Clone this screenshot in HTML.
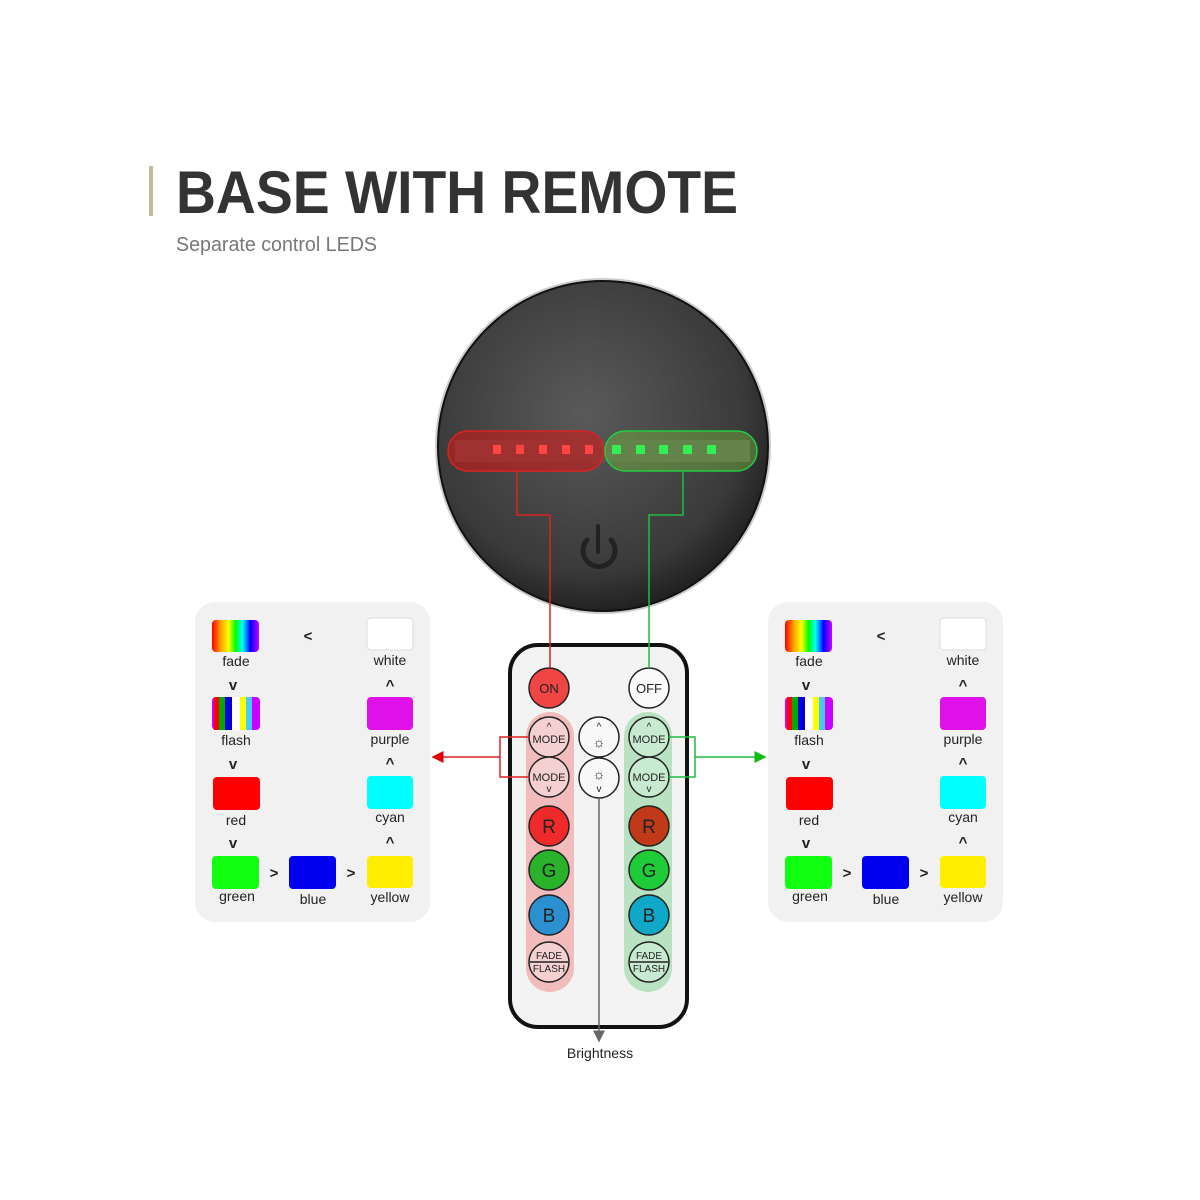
<!DOCTYPE html>
<html><head><meta charset="utf-8"><style>html,body{margin:0;padding:0;background:#fff}svg{display:block}</style></head><body>
<svg width="1200" height="1200" viewBox="0 0 1200 1200" xmlns="http://www.w3.org/2000/svg" font-family="Liberation Sans, sans-serif">
<defs>
<linearGradient id="fade" x1="0" x2="1"><stop offset="0" stop-color="#f00"/><stop offset=".2" stop-color="#fa0"/><stop offset=".35" stop-color="#ff0"/><stop offset=".5" stop-color="#0f0"/><stop offset=".65" stop-color="#0ff"/><stop offset=".82" stop-color="#00f"/><stop offset="1" stop-color="#c0f"/></linearGradient>
<radialGradient id="base" cx=".45" cy=".4" r=".6"><stop offset="0" stop-color="#5a5a5a"/><stop offset=".8" stop-color="#3a3a3a"/><stop offset="1" stop-color="#222"/></radialGradient>
<marker id="ar" markerWidth="8" markerHeight="8" refX="7" refY="4" orient="auto"><path d="M0,0 L8,4 L0,8z" fill="#d00"/></marker>
<marker id="ag" markerWidth="8" markerHeight="8" refX="7" refY="4" orient="auto"><path d="M0,0 L8,4 L0,8z" fill="#1b1"/></marker>
<marker id="ak" markerWidth="8" markerHeight="8" refX="7" refY="4" orient="auto"><path d="M0,0 L8,4 L0,8z" fill="#666"/></marker>
<g id="panel">
<rect x="195" y="602" width="235" height="320" rx="20" fill="#f1f1f1"/>
<rect x="212" y="620" width="47" height="32" rx="4" fill="url(#fade)"/>
<rect x="367" y="618" width="46" height="32" rx="4" fill="#fff" stroke="#ddd"/>
<g>
<rect x="212" y="697" width="48" height="33" rx="4" fill="#c0f"/>
<rect x="214" y="697" width="5" height="33" fill="#f00"/><rect x="219" y="697" width="6" height="33" fill="#0a0"/><rect x="225" y="697" width="7" height="33" fill="#00d"/><rect x="232" y="697" width="8" height="33" fill="#fff"/><rect x="240" y="697" width="6" height="33" fill="#ff0"/><rect x="246" y="697" width="6" height="33" fill="#4cf"/>
</g>
<rect x="367" y="697" width="46" height="33" rx="4" fill="#e010e8"/>
<rect x="213" y="777" width="47" height="33" rx="4" fill="#f00"/>
<rect x="367" y="776" width="46" height="33" rx="4" fill="#0ff"/>
<rect x="212" y="856" width="47" height="33" rx="4" fill="#1f1"/>
<rect x="289" y="856" width="47" height="33" rx="4" fill="#00e"/>
<rect x="367" y="856" width="46" height="32" rx="4" fill="#fe0"/>
<g font-size="14" fill="#222" text-anchor="middle">
<text x="236" y="666">fade</text><text x="390" y="665">white</text>
<text x="236" y="745">flash</text><text x="390" y="744">purple</text>
<text x="236" y="825">red</text><text x="390" y="822">cyan</text>
<text x="237" y="901">green</text><text x="313" y="904">blue</text><text x="390" y="902">yellow</text>
<g font-weight="bold" font-size="15"><text x="308" y="641">&lt;</text>
<text x="233" y="690">v</text><text x="233" y="769">v</text><text x="233" y="848">v</text>
<text x="390" y="690">^</text><text x="390" y="768">^</text><text x="390" y="847">^</text>
<text x="274" y="878">&gt;</text><text x="351" y="878">&gt;</text></g>
</g>
</g>
</defs>

<rect x="149" y="166" width="4" height="50" fill="#c9b89c"/>
<text x="176" y="213" font-size="60" font-weight="bold" fill="#333" textLength="562" lengthAdjust="spacingAndGlyphs">BASE WITH REMOTE</text>
<text x="176" y="251" font-size="20" fill="#777" textLength="201" lengthAdjust="spacingAndGlyphs">Separate control LEDS</text>

<use href="#panel"/>
<use href="#panel" transform="translate(573,0)"/>

<!-- base -->
<circle cx="603" cy="446" r="168" fill="#ccc"/>
<circle cx="603" cy="446" r="165" fill="url(#base)" stroke="#111" stroke-width="2"/>
<rect x="455" y="440" width="295" height="22" fill="#555"/>
<rect x="448" y="431" width="156" height="40" rx="20" fill="rgba(220,20,20,.55)" stroke="#d22" stroke-width="1.5"/>
<rect x="605" y="431" width="152" height="40" rx="20" fill="rgba(120,200,60,.4)" stroke="#2c4" stroke-width="1.5"/>
<g fill="#f44"><rect x="493" y="445" width="8" height="9"/><rect x="516" y="445" width="8" height="9"/><rect x="539" y="445" width="8" height="9"/><rect x="562" y="445" width="8" height="9"/><rect x="585" y="445" width="8" height="9"/></g>
<g fill="#3e5"><rect x="612" y="445" width="9" height="9"/><rect x="636" y="445" width="9" height="9"/><rect x="659" y="445" width="9" height="9"/><rect x="683" y="445" width="9" height="9"/><rect x="707" y="445" width="9" height="9"/></g>
<path d="M587,540 A16,16 0 1,0 611,540" fill="none" stroke="#222" stroke-width="5" stroke-linecap="round"/>
<line x1="598" y1="526" x2="598" y2="552" stroke="#222" stroke-width="4" stroke-linecap="round"/>

<!-- remote -->
<rect x="510" y="645" width="177" height="382" rx="28" fill="#f3f3f3" stroke="#111" stroke-width="4"/>
<rect x="526" y="712" width="48" height="280" rx="24" fill="#f2bcbc"/>
<rect x="624" y="712" width="48" height="280" rx="24" fill="#b8e2c2"/>
<g stroke="#222" stroke-width="1.5">
<circle cx="549" cy="688" r="20" fill="#f04545"/>
<circle cx="649" cy="688" r="20" fill="#fafafa"/>
<circle cx="549" cy="737" r="20" fill="#f4d0d0"/><circle cx="549" cy="777" r="20" fill="#f4d0d0"/>
<circle cx="599" cy="737" r="20" fill="#f8f8f8"/><circle cx="599" cy="778" r="20" fill="#f8f8f8"/>
<circle cx="649" cy="737" r="20" fill="#c8ead0"/><circle cx="649" cy="777" r="20" fill="#c8ead0"/>
<circle cx="549" cy="826" r="20" fill="#f02a2a"/><circle cx="649" cy="826" r="20" fill="#c03a1a"/>
<circle cx="549" cy="870" r="20" fill="#2ab22a"/><circle cx="649" cy="870" r="20" fill="#1ecc3a"/>
<circle cx="549" cy="915" r="20" fill="#2a90d0"/><circle cx="649" cy="915" r="20" fill="#10a8c8"/>
<circle cx="549" cy="962" r="20" fill="#f4d0d0"/><circle cx="649" cy="962" r="20" fill="#c8ead0"/>
<line x1="530" y1="962" x2="568" y2="962"/><line x1="630" y1="962" x2="668" y2="962"/>
</g>
<g font-size="13" fill="#222" text-anchor="middle">
<text x="549" y="693">ON</text><text x="649" y="693">OFF</text>
<text x="549" y="743" font-size="11">MODE</text><text x="549" y="730" font-size="10">^</text>
<text x="649" y="743" font-size="11">MODE</text><text x="649" y="730" font-size="10">^</text>
<text x="549" y="781" font-size="11">MODE</text><text x="549" y="792" font-size="10">v</text>
<text x="649" y="781" font-size="11">MODE</text><text x="649" y="792" font-size="10">v</text>
<text x="599" y="730" font-size="10">^</text><text x="599" y="747" font-size="14">☼</text>
<text x="599" y="779" font-size="14">☼</text><text x="599" y="792" font-size="10">v</text>
<text x="549" y="833" font-size="19">R</text><text x="649" y="833" font-size="19">R</text>
<text x="549" y="877" font-size="19">G</text><text x="649" y="877" font-size="19">G</text>
<text x="549" y="922" font-size="19">B</text><text x="649" y="922" font-size="19">B</text>
<text x="549" y="959" font-size="10">FADE</text><text x="549" y="972" font-size="10">FLASH</text>
<text x="649" y="959" font-size="10">FADE</text><text x="649" y="972" font-size="10">FLASH</text>
</g>

<!-- connectors -->
<polyline points="517,471 517,515 550,515 550,668" fill="none" stroke="#d22" stroke-width="1.5"/>
<polyline points="683,471 683,515 649,515 649,668" fill="none" stroke="#2b4" stroke-width="1.5"/>
<polyline points="529,737 500,737 500,777 529,777" fill="none" stroke="#d22" stroke-width="1.5"/>
<line x1="500" y1="757" x2="433" y2="757" stroke="#d22" stroke-width="1.5" marker-end="url(#ar)"/>
<polyline points="669,737 695,737 695,777 669,777" fill="none" stroke="#2b4" stroke-width="1.5"/>
<line x1="695" y1="757" x2="765" y2="757" stroke="#2b4" stroke-width="1.5" marker-end="url(#ag)"/>
<line x1="599" y1="798" x2="599" y2="1041" stroke="#666" stroke-width="1.5" marker-end="url(#ak)"/>
<text x="600" y="1058" font-size="14" fill="#222" text-anchor="middle">Brightness</text>
</svg>
</body></html>
